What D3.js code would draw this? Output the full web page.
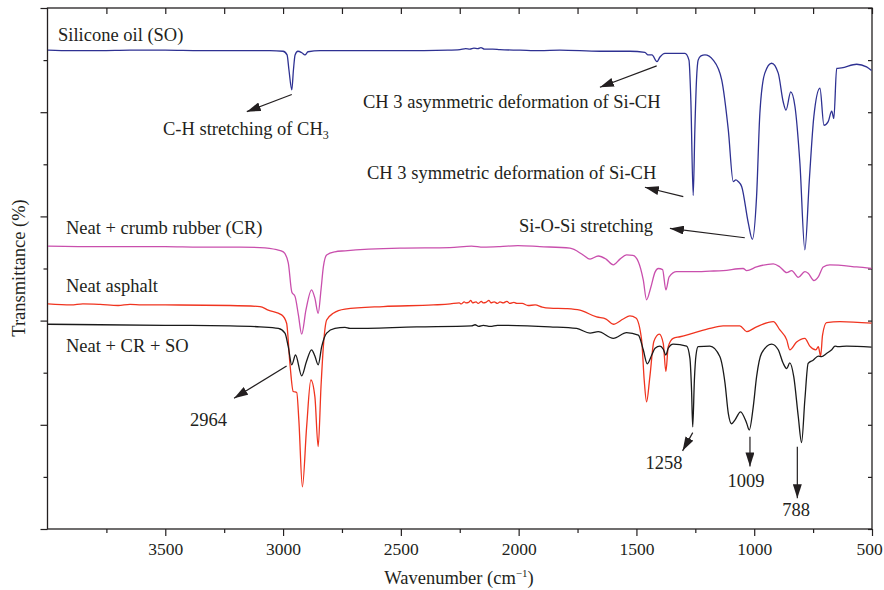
<!DOCTYPE html>
<html>
<head>
<meta charset="utf-8">
<script src="https://cdn.jsdelivr.net/npm/d3@7"></script>
<style>
  body { margin: 0; background: #fff; }
  text { font-family: "Liberation Serif", "Times New Roman", serif; fill: #231f20; }
  .axis path { display: none; }
  .axis line { stroke: #231f20; stroke-width: 1.2; }
</style>
</head>
<body>
<div id="chart-area"></div>
<script>
// x ticks (wavenumber, cm-1) and y ticks (transmittance, arbitrary units)
const xMajor = [3500, 3000, 2500, 2000, 1500, 1000, 500]
const xMinor = [3750, 3250, 2750, 2250, 1750, 1250, 750]
const yMajor = [0, 20, 40, 60, 80, 100]
const yMinor = [10, 30, 50, 70, 90]

const seriesNames = ["Silicone oil (SO)", "Neat + crumb rubber (CR)", "Neat asphalt", "Neat + CR + SO"]
const seriesColors = ["#2e3192", "#c94fad", "#f0341f", "#1a1a1a"]

// [wavenumber, transmittance]
const soData = [
  [3998, 91.9], [3900, 91.8], [3777, 91.8], [3650, 91.9], [3501, 91.9], [3350, 91.8], [3225, 91.8],
  [3056, 91.8], [3000, 91.7], [2983, 91.0], [2975, 88.1], [2963, 84.3], [2956, 88.1], [2949, 91.0],
  [2937, 91.7], [2920, 91.4], [2907, 91.0], [2894, 91.6], [2843, 91.8], [2504, 91.8], [2300, 91.9],
  [2249, 92.0], [2225, 92.2], [2207, 92.1], [2190, 92.3], [2173, 92.2], [2160, 92.4], [2145, 92.1],
  [2110, 92.1], [2079, 92.0], [1994, 91.9], [1910, 91.8], [1825, 91.9], [1655, 91.7], [1528, 91.7],
  [1464, 91.5], [1451, 91.0], [1434, 91.0], [1413, 89.7], [1400, 90.6], [1379, 91.3], [1294, 91.3],
  [1277, 90.0], [1269, 82.3], [1259, 64.0], [1252, 76.6], [1245, 86.2], [1238, 90.0], [1226, 90.8],
  [1209, 91.0], [1174, 90.0], [1138, 86.2], [1110, 76.6], [1089, 66.7], [1078, 67.0], [1068, 66.7],
  [1053, 65.7], [1025, 58.7], [1008, 55.6], [990, 63.8], [976, 79.8], [955, 87.5], [926, 89.4],
  [898, 87.5], [877, 82.0], [865, 80.4], [845, 83.9], [827, 81.1], [806, 70.2], [785, 53.6],
  [766, 67.0], [747, 79.1], [721, 84.6], [704, 77.5], [686, 78.2], [671, 80.2], [662, 78.8],
  [650, 88.4], [629, 88.5], [565, 89.2], [523, 88.7], [502, 88.0]
]

const crData = [
  [3998, 54.3], [3777, 54.2], [3501, 54.2], [3353, 54.1], [3183, 54.1], [3098, 54.0], [3027, 53.6],
  [2999, 53.2], [2978, 51.1], [2963, 45.5], [2949, 44.6], [2935, 41.1], [2921, 37.4], [2903, 42.0],
  [2879, 45.9], [2865, 44.3], [2851, 41.4], [2839, 45.9], [2829, 50.3], [2815, 52.6], [2780, 53.2],
  [2737, 53.4], [2504, 53.9], [2292, 54.0], [2200, 54.3], [2150, 54.1], [2079, 54.2], [2003, 54.4],
  [1910, 54.2], [1782, 53.9], [1726, 52.6], [1697, 51.8], [1662, 52.4], [1629, 51.8], [1598, 50.7],
  [1570, 51.8], [1542, 52.6], [1515, 52.5], [1492, 51.3], [1471, 47.8], [1457, 44.0], [1440, 46.2],
  [1421, 49.3], [1407, 50.0], [1389, 49.8], [1375, 45.9], [1361, 48.4], [1329, 49.4], [1259, 49.4],
  [1188, 49.5], [1132, 49.6], [1047, 50.0], [1032, 49.6], [990, 50.3], [919, 50.9], [891, 50.3],
  [862, 49.2], [841, 49.6], [813, 48.3], [785, 49.4], [771, 49.1], [747, 47.7], [728, 48.4],
  [707, 50.3], [679, 50.7], [565, 50.3], [502, 50.0]
]

const neatData = [
  [3998, 43.2], [3900, 43.0], [3850, 43.2], [3777, 43.1], [3700, 42.9], [3650, 43.1], [3600, 43.0],
  [3501, 43.0], [3225, 42.9], [3098, 42.7], [3063, 42.0], [3006, 41.1], [2985, 39.5], [2971, 31.8],
  [2957, 26.4], [2942, 26.2], [2933, 20.9], [2918, 8.1], [2900, 19.6], [2882, 28.6], [2865, 25.4],
  [2851, 15.8], [2839, 27.3], [2829, 35.0], [2815, 40.1], [2787, 41.4], [2737, 42.2], [2575, 42.7],
  [2362, 43.0], [2290, 43.2], [2252, 43.4], [2244, 43.2], [2231, 43.6], [2224, 43.4], [2212, 43.5],
  [2203, 43.9], [2196, 43.4], [2181, 43.6], [2172, 43.3], [2158, 43.7], [2151, 43.4], [2139, 43.5],
  [2126, 43.9], [2118, 43.4], [2104, 43.6], [2090, 43.3], [2079, 43.6], [2066, 43.4], [2050, 43.7],
  [2037, 43.3], [2020, 43.5], [2008, 43.3], [1985, 43.3], [1960, 42.9], [1930, 43.0], [1900, 42.6],
  [1867, 42.4], [1800, 42.3], [1740, 42.0], [1669, 40.7], [1629, 40.3], [1598, 39.3], [1556, 40.3],
  [1528, 40.9], [1502, 40.5], [1478, 36.3], [1467, 28.6], [1457, 24.4], [1443, 29.2], [1426, 36.0],
  [1403, 37.4], [1386, 35.6], [1375, 30.2], [1365, 35.0], [1344, 36.6], [1315, 36.9], [1259, 37.6],
  [1188, 38.5], [1132, 39.0], [1061, 39.0], [1032, 37.9], [990, 38.8], [919, 39.8], [891, 38.2],
  [862, 36.3], [849, 34.4], [820, 35.9], [785, 36.6], [764, 35.1], [738, 34.4], [728, 35.0],
  [718, 33.2], [710, 37.2], [693, 39.6], [636, 39.8], [502, 39.5]
]

const crSoData = [
  [3998, 39.3], [3777, 39.2], [3501, 39.1], [3225, 39.0], [3098, 38.8], [3020, 38.5], [2992, 37.6],
  [2978, 35.0], [2963, 31.5], [2947, 33.4], [2921, 29.4], [2901, 32.1], [2879, 34.4], [2865, 33.2],
  [2851, 31.5], [2836, 35.0], [2815, 37.6], [2780, 38.5], [2737, 38.7], [2716, 38.5], [2433, 38.8],
  [2200, 39.0], [2185, 39.2], [2170, 38.9], [2150, 39.1], [2120, 38.9], [2090, 39.1], [1867, 38.8],
  [1754, 38.5], [1697, 37.6], [1662, 37.9], [1598, 36.6], [1542, 37.7], [1492, 37.2], [1471, 34.4],
  [1454, 31.7], [1435, 33.4], [1421, 34.7], [1400, 35.1], [1386, 34.5], [1375, 33.4], [1365, 34.7],
  [1344, 35.5], [1287, 35.1], [1273, 32.8], [1266, 26.7], [1261, 19.6], [1254, 28.6], [1247, 33.4],
  [1238, 35.0], [1188, 35.1], [1146, 33.1], [1124, 28.0], [1110, 22.2], [1096, 20.2], [1082, 20.9],
  [1058, 22.5], [1032, 20.3], [1021, 19.0], [1004, 23.5], [990, 29.2], [969, 33.7], [926, 35.5],
  [898, 34.4], [877, 31.8], [862, 30.8], [849, 31.9], [832, 29.2], [813, 21.6], [799, 16.6],
  [785, 24.8], [771, 31.8], [750, 32.4], [728, 33.2], [714, 33.1], [693, 33.7], [671, 34.4],
  [657, 35.1], [644, 35.0], [608, 35.1], [502, 34.9]
]

// arrows: [from wavenumber, from value, to wavenumber, to value]
const arrows = [
  [2963, 83.4, 3154, 80.1],
  [1414, 88.9, 1655, 84.8],
  [1301, 63.8, 1464, 65.6],
  [1040, 55.9, 1358, 57.7],
  [2985, 31.3, 3208, 25.1],
  [1261, 18.5, 1304, 15.0],
  [1018, 17.7, 1018, 12.0],
  [817, 15.8, 817, 5.9]
]

const MARGIN = { LEFT: 47.5, RIGHT: 12, TOP: 8, BOTTOM: 61 }
const WIDTH = 884 - MARGIN.LEFT - MARGIN.RIGHT
const HEIGHT = 590 - MARGIN.TOP - MARGIN.BOTTOM

const svg = d3.select("#chart-area").append("svg")
  .attr("width", 884)
  .attr("height", 590)

svg.append("defs").append("marker")
  .attr("id", "head")
  .attr("markerUnits", "userSpaceOnUse")
  .attr("viewBox", "0 0 14 9")
  .attr("refX", 14)
  .attr("refY", 4.5)
  .attr("markerWidth", 14)
  .attr("markerHeight", 9)
  .attr("orient", "auto")
  .append("path")
  .attr("d", "M0,0 L14,4.5 L0,9 Z")
  .attr("fill", "#231f20")

const g = svg.append("g")
  .attr("transform", `translate(${MARGIN.LEFT}, ${MARGIN.TOP})`)

const x = d3.scaleLinear().domain([4000, 500]).range([0, WIDTH])
const y = d3.scaleLinear().domain([0, 100]).range([HEIGHT, 0])

// axes
g.append("g").attr("class", "axis").attr("transform", `translate(0, ${HEIGHT})`)
  .call(d3.axisBottom(x).tickValues(xMajor).tickSize(7).tickPadding(7).tickFormat(d3.format("d")))
  .selectAll("text")
    .attr("font-size", 17.5)
    .attr("font-family", "Liberation Serif")
    .attr("fill", "#231f20")
    .attr("dx", d => d === 500 ? -3 : 0)
g.append("g").attr("class", "axis").attr("transform", `translate(0, ${HEIGHT})`)
  .call(d3.axisBottom(x).tickValues(xMinor).tickSize(4).tickFormat(""))
g.append("g").attr("class", "axis")
  .call(d3.axisTop(x).tickValues(xMajor.concat(xMinor)).tickSize(-6).tickFormat(""))
g.append("g").attr("class", "axis")
  .call(d3.axisLeft(y).tickValues(yMajor).tickSize(7).tickFormat(""))
g.append("g").attr("class", "axis")
  .call(d3.axisLeft(y).tickValues(yMinor).tickSize(4).tickFormat(""))
g.append("g").attr("class", "axis").attr("transform", `translate(${WIDTH}, 0)`)
  .call(d3.axisRight(y).tickValues(yMajor.concat(yMinor)).tickSize(-4).tickFormat(""))

g.append("rect")
  .attr("width", WIDTH)
  .attr("height", HEIGHT)
  .attr("fill", "none")
  .attr("stroke", "#231f20")
  .attr("stroke-width", 1.3)

// spectra
const line = d3.line()
  .x(d => x(d[0]))
  .y(d => y(d[1]))
  .curve(d3.curveMonotoneX)

const allSeries = [soData, crData, neatData, crSoData]
g.selectAll(".spectrum")
  .data(allSeries)
  .enter().append("path")
  .attr("class", "spectrum")
  .attr("d", d => line(d))
  .attr("fill", "none")
  .attr("stroke", (d, i) => seriesColors[i])
  .attr("stroke-width", 1.3)

// arrows
g.selectAll(".arrow")
  .data(arrows)
  .enter().append("line")
  .attr("class", "arrow")
  .attr("x1", d => x(d[0]))
  .attr("y1", d => y(d[1]))
  .attr("x2", d => x(d[2]))
  .attr("y2", d => y(d[3]))
  .attr("stroke", "#231f20")
  .attr("stroke-width", 1.2)
  .attr("marker-end", "url(#head)")

// labels
const labels = [
  { t: seriesNames[0], x: 58, y: 40.5 },
  { t: seriesNames[1], x: 66, y: 234 },
  { t: seriesNames[2], x: 66, y: 291.5 },
  { t: seriesNames[3], x: 66, y: 351.5 },
  { t: "CH 3 asymmetric deformation of Si-CH", x: 363, y: 108 },
  { t: "CH 3 symmetric deformation of Si-CH", x: 367, y: 179 },
  { t: "Si-O-Si stretching", x: 519, y: 231.5 },
  { t: "2964", x: 190, y: 426 },
  { t: "1258", x: 664, y: 469, a: "middle" },
  { t: "1009", x: 746, y: 487, a: "middle" },
  { t: "788", x: 796, y: 516, a: "middle" }
]
svg.selectAll(".lbl")
  .data(labels)
  .enter().append("text")
  .attr("class", "lbl")
  .attr("x", d => d.x)
  .attr("y", d => d.y)
  .attr("text-anchor", d => d.a || "start")
  .attr("font-size", 18.5)
  .text(d => d.t)

const ch = svg.append("text")
  .attr("x", 163)
  .attr("y", 134.5)
  .attr("font-size", 18.5)
ch.append("tspan").text("C-H stretching of CH")
ch.append("tspan").attr("font-size", 12).attr("dy", 4).text("3")

// axis titles
const xt = svg.append("text")
  .attr("x", 459)
  .attr("y", 584)
  .attr("text-anchor", "middle")
  .attr("font-size", 18.5)
xt.append("tspan").text("Wavenumber (cm")
xt.append("tspan").attr("font-size", 11).attr("dy", -7).text("−1")
xt.append("tspan").attr("dy", 7).text(")")

svg.append("text")
  .attr("transform", "translate(25, 268) rotate(-90)")
  .attr("text-anchor", "middle")
  .attr("font-size", 18.5)
  .text("Transmittance (%)")
</script>
</body>
</html>
